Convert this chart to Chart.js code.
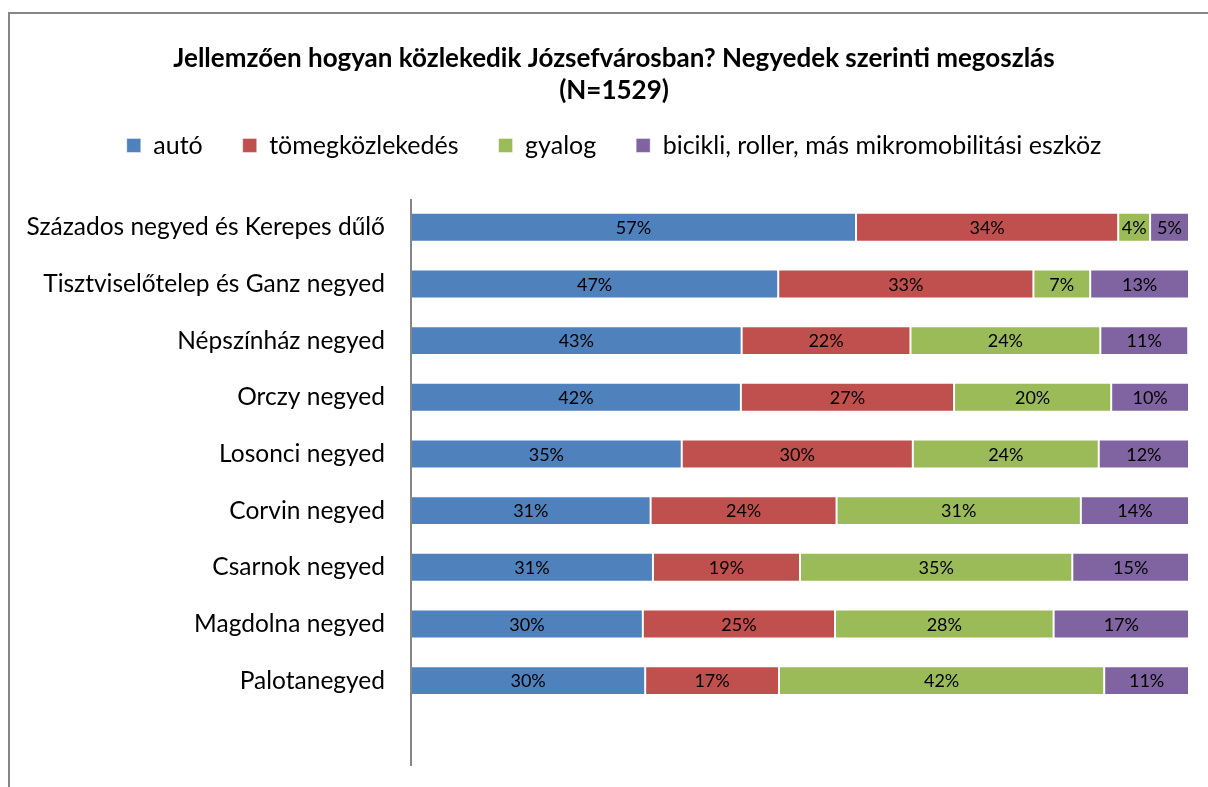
<!DOCTYPE html>
<html>
<head>
<meta charset="utf-8">
<script src="https://cdn.jsdelivr.net/npm/chart.js@4"></script>
<style>
  html, body { margin: 0; padding: 0; background: #fff; }
  #wrap { position: relative; width: 1208px; height: 787px; }
</style>
</head>
<body>
<div id="wrap"><canvas id="chart" width="1208" height="787"></canvas></div>
<script>
// negyedek (felülről lefelé)
const negyedek = [
    'Százados negyed és Kerepes dűlő',
    'Tisztviselőtelep és Ganz negyed',
    'Népszínház negyed',
    'Orczy negyed',
    'Losonci negyed',
    'Corvin negyed',
    'Csarnok negyed',
    'Magdolna negyed',
    'Palotanegyed'
];

// megoszlás, % (a sávok hosszából leolvasva)
const auto      = [57.2, 47.2, 42.5, 42.4, 34.8, 30.8, 31.1, 29.8, 30.1];
const tomeg     = [33.7, 32.8, 21.7, 27.4, 29.7, 23.9, 18.9, 24.7, 17.2];
const gyalog    = [4.1, 7.3, 24.4, 20.2, 23.9, 31.4, 35.0, 28.1, 41.8];
const bicikli   = [5.0, 12.7, 11.3, 10.0, 11.6, 13.9, 15.0, 17.4, 10.9];

const FONT = 'Lato, "Open Sans", sans-serif';

// keret a diagram körül
const frame = {
    id: 'frame',
    beforeDraw(chart) {
        const ctx = chart.ctx;
        ctx.save();
        ctx.strokeStyle = '#868686';
        ctx.lineWidth = 2;
        ctx.beginPath();
        ctx.moveTo(9, 787);
        ctx.lineTo(9, 13);
        ctx.lineTo(1208, 13);
        ctx.stroke();
        ctx.restore();
    }
};

// több hely a jelmagyarázat alatt
const legendGap = {
    id: 'legendGap',
    beforeInit(chart) {
        const fit = chart.legend.fit;
        chart.legend.fit = function () {
            fit.call(this);
            this.height += 31;
        };
    }
};

// függőleges tengelyvonal
const axisLine = {
    id: 'axisLine',
    afterDraw(chart) {
        const a = chart.chartArea;
        const ctx = chart.ctx;
        ctx.save();
        ctx.strokeStyle = '#868686';
        ctx.lineWidth = 2;
        ctx.beginPath();
        ctx.moveTo(a.left, a.top);
        ctx.lineTo(a.left, a.bottom + 57);
        ctx.stroke();
        ctx.restore();
    }
};

// százalékos címkék a sávokon
const barLabels = {
    id: 'barLabels',
    afterDatasetsDraw(chart) {
        const ctx = chart.ctx;
        ctx.save();
        ctx.font = '18px ' + FONT;
        ctx.fillStyle = '#000';
        ctx.textAlign = 'center';
        ctx.textBaseline = 'middle';
        chart.data.datasets.forEach((ds, i) => {
            chart.getDatasetMeta(i).data.forEach((bar, j) => {
                const x = (bar.x + bar.base) / 2;
                ctx.fillText(Math.round(ds.data[j]) + '%', x, bar.y + 1);
            });
        });
        ctx.restore();
    }
};

const ctx = document.getElementById('chart').getContext('2d');
new Chart(ctx, {
    type: 'bar',
    data: {
        labels: negyedek,
        datasets: [
            { label: 'autó', data: auto, backgroundColor: '#4F81BD' },
            { label: 'tömegközlekedés', data: tomeg, backgroundColor: '#C0504D' },
            { label: 'gyalog', data: gyalog, backgroundColor: '#9BBB59' },
            { label: 'bicikli, roller, más mikromobilitási eszköz', data: bicikli, backgroundColor: '#8064A2' }
        ]
    },
    options: {
        indexAxis: 'y',
        responsive: false,
        animation: false,
        layout: { padding: { left: 39, right: 19, top: 20, bottom: 78 } },
        datasets: {
            bar: {
                categoryPercentage: 1,
                barPercentage: 0.51,
                borderWidth: 1,
                borderColor: 'rgba(255,255,255,0.45)',
                borderSkipped: false
            }
        },
        scales: {
            x: { stacked: true, min: 0, max: 100, display: false },
            y: {
                stacked: true,
                grid: { display: false, drawTicks: false },
                border: { display: false },
                ticks: { color: '#000', font: { family: FONT, size: 24.5 }, padding: 26 },
                afterFit(scale) {
                    scale.width = 372;
                    // a hosszú címke ne legyen levágva
                    scale._computeLabelArea = () => undefined;
                }
            }
        },
        plugins: {
            title: {
                display: true,
                text: ['Jellemzően hogyan közlekedik Józsefvárosban? Negyedek szerinti megoszlás', '(N=1529)'],
                color: '#000',
                font: { family: FONT, size: 26, weight: 'bold', lineHeight: 1.23 },
                padding: { top: 23, bottom: -14 }
            },
            legend: {
                labels: {
                    color: '#000',
                    font: { family: FONT, size: 25 },
                    boxWidth: 14,
                    boxHeight: 14,
                    padding: 40
                }
            },
            tooltip: { enabled: false }
        }
    },
    plugins: [frame, legendGap, axisLine, barLabels]
});
</script>
</body>
</html>
